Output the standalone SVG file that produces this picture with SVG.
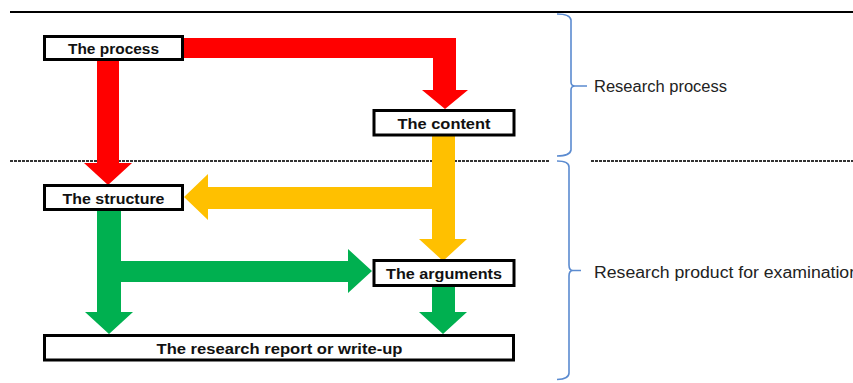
<svg xmlns="http://www.w3.org/2000/svg" width="853" height="383" viewBox="0 0 853 383">
<style>
.box{fill:#fff;stroke:#000;stroke-width:3}
.lbl{font-family:"Liberation Sans",Arial,sans-serif;font-weight:bold;font-size:15.5px;fill:#111;text-anchor:middle}
.side{font-family:"Liberation Sans",Arial,sans-serif;font-size:16px;fill:#222}
.brace{fill:none;stroke:#5b8bd0;stroke-width:1.6}
.dash{stroke:#333;stroke-width:2;stroke-dasharray:3,1}
</style>
<rect width="853" height="383" fill="#fff"/>
<line x1="10" y1="12" x2="853" y2="12" stroke="#000" stroke-width="2"/>
<g id="separator">
<line class="dash" x1="10" y1="161" x2="549" y2="161"/>
<line class="dash" x1="591" y1="161" x2="853" y2="161"/>
</g>
<g id="connectors">
<path fill="#FF0000" d="M184,38H456V90H468L445,109L422,90H433V58H184Z"/>
<path fill="#FF0000" d="M97,61H119V163H132L108,185L84,163H97Z"/>
<path fill="#FFC000" d="M432,136H455V239H467L443,261L419,239H432Z"/>
<path fill="#FFC000" d="M432,187H208V174L184,197L208,220V209H432Z"/>
<path fill="#00B050" d="M97,211H121V312H133L109,334L85,312H97Z"/>
<path fill="#00B050" d="M121,261H348V249L372,271L348,293V282H121Z"/>
<path fill="#00B050" d="M432,287H455V312H467L443,334L419,312H432Z"/>
</g>
<g id="process"><rect class="box" x="44.5" y="36.5" width="138" height="23"/><text class="lbl" x="113.5" y="54" textLength="91" lengthAdjust="spacingAndGlyphs">The process</text></g>
<g id="content"><rect class="box" x="374" y="110.5" width="140" height="24.5"/><text class="lbl" x="444" y="129" textLength="93" lengthAdjust="spacingAndGlyphs">The content</text></g>
<g id="structure"><rect class="box" x="44.5" y="185.5" width="138" height="24"/><text class="lbl" x="113.5" y="203.5" textLength="102" lengthAdjust="spacingAndGlyphs">The structure</text></g>
<g id="arguments"><rect class="box" x="374" y="260.5" width="140" height="25"/><text class="lbl" x="444" y="278.5" textLength="116" lengthAdjust="spacingAndGlyphs">The arguments</text></g>
<g id="report"><rect class="box" x="44.5" y="335.5" width="469" height="24.5"/><text class="lbl" x="279.5" y="353.5" textLength="246" lengthAdjust="spacingAndGlyphs">The research report or write-up</text></g>
<g id="braces">
<path class="brace" d="M557,14Q570,14 571,20V82Q571,86 575,86H587M575,86Q571,86 571,90V150Q570,156 557,156"/>
<path class="brace" d="M557,161Q569,161 569,167V265Q569,270.5 573,270.5H581M573,270.5Q569,270.5 569,276V373Q569,379 557,379.5"/>
</g>
<text class="side" x="594" y="92" textLength="133" lengthAdjust="spacingAndGlyphs">Research process</text>
<text class="side" x="594" y="278" textLength="265" lengthAdjust="spacingAndGlyphs">Research product for examination</text>
</svg>
